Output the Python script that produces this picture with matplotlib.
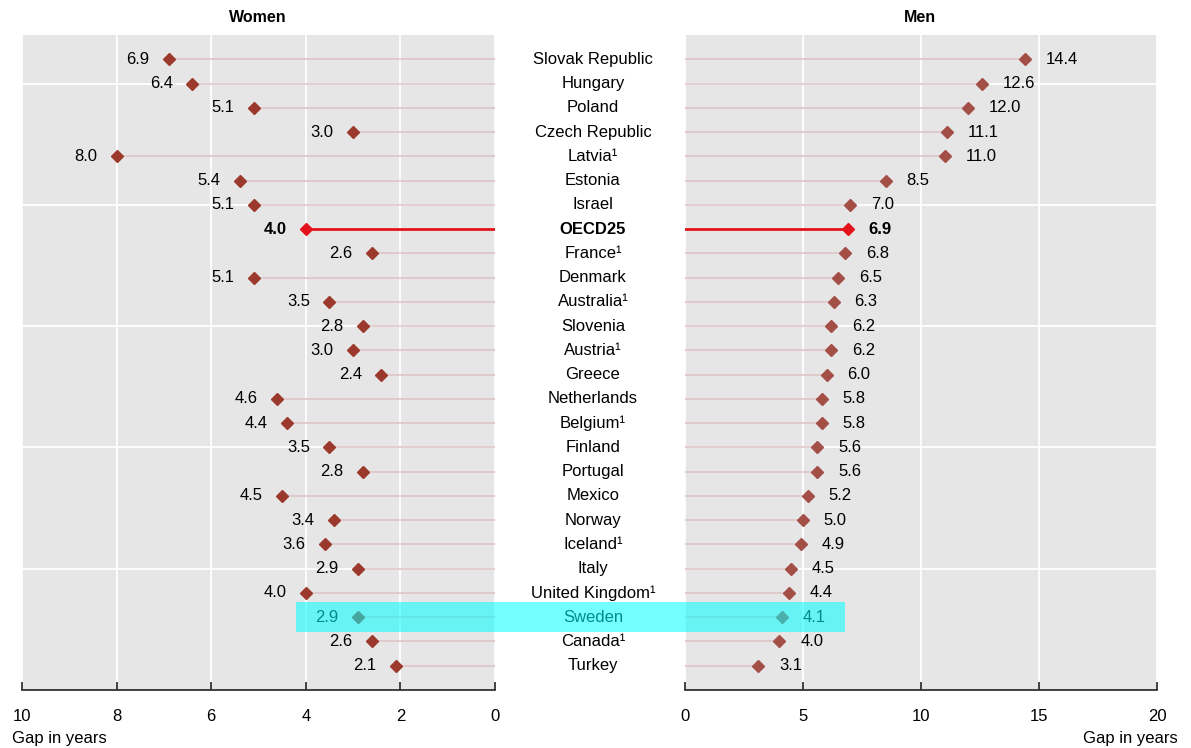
import matplotlib
matplotlib.use("Agg")
import matplotlib.pyplot as plt
import matplotlib.transforms as mtransforms
from matplotlib.patches import Rectangle
import numpy as np

plt.rcParams['font.family'] = ['Liberation Sans Narrow', 'Liberation Sans', 'DejaVu Sans']

# data, top to bottom
countries = ["Slovak Republic", "Hungary", "Poland", "Czech Republic", "Latvia\u00b9",
             "Estonia", "Israel", "OECD25", "France\u00b9", "Denmark", "Australia\u00b9",
             "Slovenia", "Austria\u00b9", "Greece", "Netherlands", "Belgium\u00b9", "Finland",
             "Portugal", "Mexico", "Norway", "Iceland\u00b9", "Italy", "United Kingdom\u00b9",
             "Sweden", "Canada\u00b9", "Turkey"]
women = [6.9, 6.4, 5.1, 3.0, 8.0, 5.4, 5.1, 4.0, 2.6, 5.1, 3.5, 2.8, 3.0, 2.4, 4.6,
         4.4, 3.5, 2.8, 4.5, 3.4, 3.6, 2.9, 4.0, 2.9, 2.6, 2.1]
men = [14.4, 12.6, 12.0, 11.1, 11.0, 8.5, 7.0, 6.9, 6.8, 6.5, 6.3, 6.2, 6.2, 6.0, 5.8,
       5.8, 5.6, 5.6, 5.2, 5.0, 4.9, 4.5, 4.4, 4.1, 4.0, 3.1]
women_ticks = [0, 2, 4, 6, 8, 10]
men_ticks = [0, 5, 10, 15, 20]

n = len(countries)
ypos = np.arange(n)[::-1]

W, H = 1191, 748
fig = plt.figure(figsize=(W / 100, H / 100), dpi=100)
bg = '#e6e6e6'
stem_c = '#dcc2c2'
red = '#e3121b'
fs = 12

axL = fig.add_axes([22 / W, 1 - 690 / H, 473 / W, 655 / H])
axR = fig.add_axes([685 / W, 1 - 690 / H, 472 / W, 655 / H])

for ax, vals, ticks, xmax, mc in [(axL, women, women_ticks, 10, '#9b3a2c'),
                                  (axR, men, men_ticks, 20, '#a34f47')]:
    ax.set_facecolor(bg)
    ax.set_xlim(0, xmax)
    ax.set_ylim(-1, n)
    ax.set_xticks(ticks)
    ax.set_yticks([4, 9, 14, 19, 24])
    ax.set_yticklabels([])
    ax.grid(True, color='white', lw=1.3)
    ax.set_axisbelow(True)
    for s in ['top', 'left', 'right']:
        ax.spines[s].set_visible(False)
    ax.spines['bottom'].set_color('#222222')
    ax.spines['bottom'].set_linewidth(1.2)
    ax.tick_params(axis='x', direction='in', length=6, width=1.2, color='#222222',
                   labelsize=fs, pad=14)
    ax.tick_params(axis='y', length=0)
    for i, (c, v) in enumerate(zip(countries, vals)):
        y = ypos[i]
        if c == 'OECD25':
            ax.plot([0, v], [y, y], color=red, lw=2, zorder=3)
            ax.plot(v, y, marker='D', color=red, ms=6.5, zorder=4)
        else:
            ax.plot([0, v], [y, y], color=stem_c, lw=1.1, zorder=2)
            ax.plot(v, y, marker='D', color=mc, ms=6.5, zorder=4)

axL.invert_xaxis()

for i, (c, v) in enumerate(zip(countries, women)):
    axL.annotate(f"{v:.1f}", (v, ypos[i]), xytext=(-14, 0), textcoords='offset points',
                 ha='right', va='center', fontsize=fs,
                 fontweight='bold' if c == 'OECD25' else 'normal')
for i, (c, v) in enumerate(zip(countries, men)):
    axR.annotate(f"{v:.1f}", (v, ypos[i]), xytext=(15, 0), textcoords='offset points',
                 ha='left', va='center', fontsize=fs,
                 fontweight='bold' if c == 'OECD25' else 'normal')

# country names in the middle
tr = mtransforms.blended_transform_factory(fig.transFigure, axR.transData)
for i, c in enumerate(countries):
    fig.text(593 / W, ypos[i], c, transform=tr, ha='center', va='center', fontsize=fs,
             fontweight='bold' if c == 'OECD25' else 'normal')

fig.text(258 / W, 1 - 18 / H, 'Women', ha='center', va='center', fontsize=11.5, fontweight='bold')
fig.text(920 / W, 1 - 18 / H, 'Men', ha='center', va='center', fontsize=11.5, fontweight='bold')
fig.text(12 / W, 1 - 738 / H, 'Gap in years', ha='left', va='center', fontsize=fs)
fig.text(1178 / W, 1 - 738 / H, 'Gap in years', ha='right', va='center', fontsize=fs)

# Sweden highlight box
ys = ypos[countries.index('Sweden')]
inv = fig.transFigure.inverted()
x0, y0 = inv.transform(axL.transData.transform((4.2, ys - 0.62)))
x1, y1 = inv.transform(axR.transData.transform((6.8, ys + 0.62)))
fig.patches.append(Rectangle((x0, y0), x1 - x0, y1 - y0, transform=fig.transFigure,
                             facecolor='#00ffff', alpha=0.55, edgecolor='none', zorder=10))

fig.savefig('out.png', dpi=100)
